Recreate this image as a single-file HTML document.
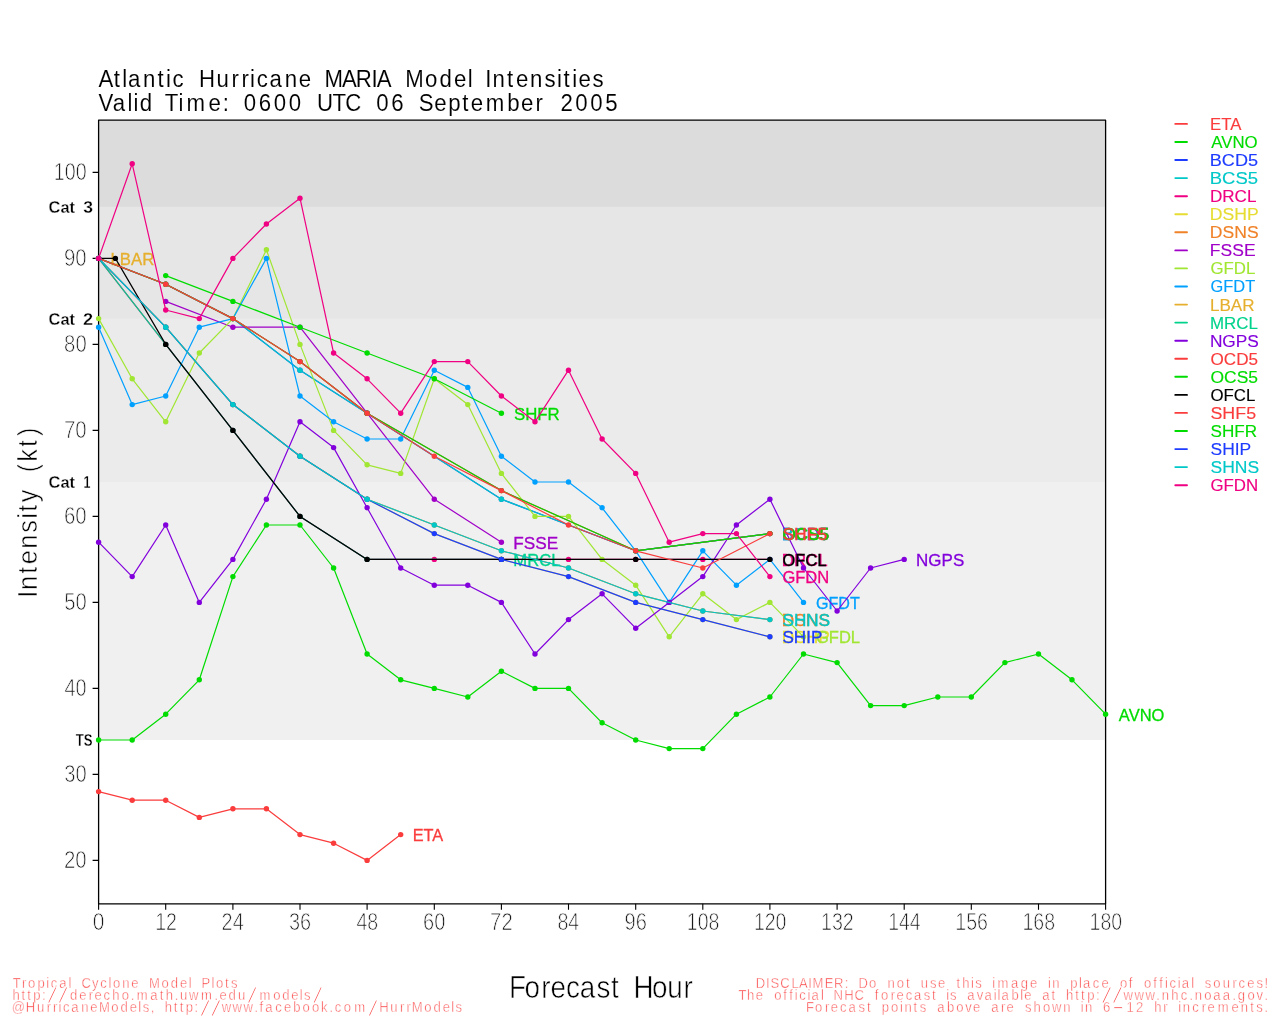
<!DOCTYPE html>
<html lang="en"><head><meta charset="utf-8"><title>Atlantic Hurricane MARIA Model Intensities</title>
<style>
html,body{margin:0;padding:0;background:#fff}
body{width:1280px;height:1024px;overflow:hidden}
svg{display:block}
text{font-family:"Liberation Sans",sans-serif}
.thin{fill:#000;stroke:#fff;stroke-width:.55px;paint-order:fill stroke}
.ax{fill:#1a1a1a;stroke:#fff;stroke-width:.75px}
.cat{font-weight:bold;fill:#000;stroke:#fff;stroke-width:.3px;paint-order:fill stroke}
.ft{fill:#fa3c3c;stroke:#fff;stroke-width:.5px;paint-order:fill stroke}
.sl{stroke-width:1.15px}
.e3{fill:#000;stroke:#fff;stroke-width:.08px;paint-order:fill stroke}
.e8{fill:#000;stroke:#fff;stroke-width:.6px;paint-order:fill stroke}
.ln{fill:none;stroke-width:1.2;stroke-linejoin:round;stroke-linecap:round}
</style></head><body>
<svg width="1280" height="1024" viewBox="0 0 1280 1024">
<rect width="1280" height="1024" fill="#fff"/>
<rect x="98.6" y="120.2" width="1007.0" height="619.8" fill="#f0f0f0"/>
<rect x="98.6" y="120.2" width="1007.0" height="361.8" fill="#ebebeb"/>
<rect x="98.6" y="120.2" width="1007.0" height="198.4" fill="#e6e6e6"/>
<rect x="98.6" y="120.2" width="1007.0" height="86.6" fill="#dcdcdc"/>
<rect x="98.6" y="120.2" width="1007.0" height="783.6" fill="none" stroke="#000" stroke-width="1.3" stroke-linejoin="round"/>
<path d="M92.6,860.4H98.6M92.6,774.4H98.6M92.6,688.4H98.6M92.6,602.4H98.6M92.6,516.4H98.6M92.6,430.4H98.6M92.6,344.4H98.6M92.6,258.4H98.6M92.6,172.4H98.6M98.6,903.8V909.6999999999999M165.7,903.8V909.6999999999999M232.9,903.8V909.6999999999999M300.0,903.8V909.6999999999999M367.1,903.8V909.6999999999999M434.3,903.8V909.6999999999999M501.4,903.8V909.6999999999999M568.5,903.8V909.6999999999999M635.7,903.8V909.6999999999999M702.8,903.8V909.6999999999999M769.9,903.8V909.6999999999999M837.1,903.8V909.6999999999999M904.2,903.8V909.6999999999999M971.3,903.8V909.6999999999999M1038.5,903.8V909.6999999999999M1105.6,903.8V909.6999999999999" stroke="#000" stroke-width="1.1" fill="none"/>
<g fill="#fa3c3c" stroke="#fa3c3c"><polyline class="ln" points="98.6,791.6 132.2,800.2 165.7,800.2 199.3,817.4 232.9,808.8 266.4,808.8 300.0,834.6 333.6,843.2 367.1,860.4 400.7,834.6"/><circle cx="98.6" cy="791.6" r="2.7" stroke="none"/><circle cx="132.2" cy="800.2" r="2.7" stroke="none"/><circle cx="165.7" cy="800.2" r="2.7" stroke="none"/><circle cx="199.3" cy="817.4" r="2.7" stroke="none"/><circle cx="232.9" cy="808.8" r="2.7" stroke="none"/><circle cx="266.4" cy="808.8" r="2.7" stroke="none"/><circle cx="300.0" cy="834.6" r="2.7" stroke="none"/><circle cx="333.6" cy="843.2" r="2.7" stroke="none"/><circle cx="367.1" cy="860.4" r="2.7" stroke="none"/><circle cx="400.7" cy="834.6" r="2.7" stroke="none"/><text x="412.71" y="841.00" font-size="17.2" textLength="30.52" lengthAdjust="spacingAndGlyphs" stroke-width="0.3">ETA</text></g>
<g fill="#00dc00" stroke="#00dc00"><polyline class="ln" points="98.6,740.0 132.2,740.0 165.7,714.2 199.3,679.8 232.9,576.6 266.4,525.0 300.0,525.0 333.6,568.0 367.1,654.0 400.7,679.8 434.3,688.4 467.8,697.0 501.4,671.2 535.0,688.4 568.5,688.4 602.1,722.8 635.7,740.0 669.2,748.6 702.8,748.6 736.4,714.2 769.9,697.0 803.5,654.0 837.1,662.6 870.6,705.6 904.2,705.6 937.8,697.0 971.3,697.0 1004.9,662.6 1038.5,654.0 1072.0,679.8 1105.6,714.2"/><circle cx="98.6" cy="740.0" r="2.7" stroke="none"/><circle cx="132.2" cy="740.0" r="2.7" stroke="none"/><circle cx="165.7" cy="714.2" r="2.7" stroke="none"/><circle cx="199.3" cy="679.8" r="2.7" stroke="none"/><circle cx="232.9" cy="576.6" r="2.7" stroke="none"/><circle cx="266.4" cy="525.0" r="2.7" stroke="none"/><circle cx="300.0" cy="525.0" r="2.7" stroke="none"/><circle cx="333.6" cy="568.0" r="2.7" stroke="none"/><circle cx="367.1" cy="654.0" r="2.7" stroke="none"/><circle cx="400.7" cy="679.8" r="2.7" stroke="none"/><circle cx="434.3" cy="688.4" r="2.7" stroke="none"/><circle cx="467.8" cy="697.0" r="2.7" stroke="none"/><circle cx="501.4" cy="671.2" r="2.7" stroke="none"/><circle cx="535.0" cy="688.4" r="2.7" stroke="none"/><circle cx="568.5" cy="688.4" r="2.7" stroke="none"/><circle cx="602.1" cy="722.8" r="2.7" stroke="none"/><circle cx="635.7" cy="740.0" r="2.7" stroke="none"/><circle cx="669.2" cy="748.6" r="2.7" stroke="none"/><circle cx="702.8" cy="748.6" r="2.7" stroke="none"/><circle cx="736.4" cy="714.2" r="2.7" stroke="none"/><circle cx="769.9" cy="697.0" r="2.7" stroke="none"/><circle cx="803.5" cy="654.0" r="2.7" stroke="none"/><circle cx="837.1" cy="662.6" r="2.7" stroke="none"/><circle cx="870.6" cy="705.6" r="2.7" stroke="none"/><circle cx="904.2" cy="705.6" r="2.7" stroke="none"/><circle cx="937.8" cy="697.0" r="2.7" stroke="none"/><circle cx="971.3" cy="697.0" r="2.7" stroke="none"/><circle cx="1004.9" cy="662.6" r="2.7" stroke="none"/><circle cx="1038.5" cy="654.0" r="2.7" stroke="none"/><circle cx="1072.0" cy="679.8" r="2.7" stroke="none"/><circle cx="1105.6" cy="714.2" r="2.7" stroke="none"/><text x="1118.86" y="720.60" font-size="17.2" textLength="45.50" lengthAdjust="spacingAndGlyphs" stroke-width="0.3">AVNO</text></g>
<g fill="#1e3cff" stroke="#1e3cff"><polyline class="ln" points="98.6,258.4 165.7,284.2 232.9,318.6 300.0,370.2 367.1,413.2 501.4,499.2 635.7,550.8 769.9,533.6"/><circle cx="98.6" cy="258.4" r="2.7" stroke="none"/><circle cx="165.7" cy="284.2" r="2.7" stroke="none"/><circle cx="232.9" cy="318.6" r="2.7" stroke="none"/><circle cx="300.0" cy="370.2" r="2.7" stroke="none"/><circle cx="367.1" cy="413.2" r="2.7" stroke="none"/><circle cx="501.4" cy="499.2" r="2.7" stroke="none"/><circle cx="635.7" cy="550.8" r="2.7" stroke="none"/><circle cx="769.9" cy="533.6" r="2.7" stroke="none"/><text x="781.77" y="540.00" font-size="17.2" textLength="47.40" lengthAdjust="spacingAndGlyphs" stroke-width="0.3">BCD5</text></g>
<g fill="#00c8c8" stroke="#00c8c8"><polyline class="ln" points="98.6,258.4 165.7,284.2 232.9,318.6 300.0,370.2 367.1,413.2 501.4,499.2 635.7,550.8 769.9,533.6"/><circle cx="98.6" cy="258.4" r="2.7" stroke="none"/><circle cx="165.7" cy="284.2" r="2.7" stroke="none"/><circle cx="232.9" cy="318.6" r="2.7" stroke="none"/><circle cx="300.0" cy="370.2" r="2.7" stroke="none"/><circle cx="367.1" cy="413.2" r="2.7" stroke="none"/><circle cx="501.4" cy="499.2" r="2.7" stroke="none"/><circle cx="635.7" cy="550.8" r="2.7" stroke="none"/><circle cx="769.9" cy="533.6" r="2.7" stroke="none"/><text x="781.74" y="540.00" font-size="17.2" textLength="47.45" lengthAdjust="spacingAndGlyphs" stroke-width="0.3">BCS5</text></g>
<g fill="#f00082" stroke="#f00082"><polyline class="ln" points="98.6,258.4 165.7,344.4 232.9,430.4 300.0,516.4 367.1,559.4 434.3,559.4 501.4,559.4 568.5,559.4 635.7,559.4 702.8,559.4 769.9,559.4"/><circle cx="98.6" cy="258.4" r="2.7" stroke="none"/><circle cx="165.7" cy="344.4" r="2.7" stroke="none"/><circle cx="232.9" cy="430.4" r="2.7" stroke="none"/><circle cx="300.0" cy="516.4" r="2.7" stroke="none"/><circle cx="367.1" cy="559.4" r="2.7" stroke="none"/><circle cx="434.3" cy="559.4" r="2.7" stroke="none"/><circle cx="501.4" cy="559.4" r="2.7" stroke="none"/><circle cx="568.5" cy="559.4" r="2.7" stroke="none"/><circle cx="635.7" cy="559.4" r="2.7" stroke="none"/><circle cx="702.8" cy="559.4" r="2.7" stroke="none"/><circle cx="769.9" cy="559.4" r="2.7" stroke="none"/><text x="781.85" y="565.80" font-size="17.2" textLength="45.74" lengthAdjust="spacingAndGlyphs" stroke-width="0.3">DRCL</text></g>
<g fill="#e6dc32" stroke="#e6dc32"><polyline class="ln" points="98.6,258.4 165.7,327.2 232.9,404.6 300.0,456.2 367.1,499.2 434.3,533.6 501.4,559.4 568.5,576.6 635.7,602.4 702.8,619.6 769.9,636.8"/><circle cx="98.6" cy="258.4" r="2.7" stroke="none"/><circle cx="165.7" cy="327.2" r="2.7" stroke="none"/><circle cx="232.9" cy="404.6" r="2.7" stroke="none"/><circle cx="300.0" cy="456.2" r="2.7" stroke="none"/><circle cx="367.1" cy="499.2" r="2.7" stroke="none"/><circle cx="434.3" cy="533.6" r="2.7" stroke="none"/><circle cx="501.4" cy="559.4" r="2.7" stroke="none"/><circle cx="568.5" cy="576.6" r="2.7" stroke="none"/><circle cx="635.7" cy="602.4" r="2.7" stroke="none"/><circle cx="702.8" cy="619.6" r="2.7" stroke="none"/><circle cx="769.9" cy="636.8" r="2.7" stroke="none"/><text x="781.81" y="643.20" font-size="17.2" textLength="48.03" lengthAdjust="spacingAndGlyphs" stroke-width="0.3">DSHP</text></g>
<g fill="#f08228" stroke="#f08228"><polyline class="ln" points="98.6,258.4 165.7,327.2 232.9,404.6 300.0,456.2 367.1,499.2 434.3,525.0 501.4,550.8 568.5,568.0 635.7,593.8 702.8,611.0 769.9,619.6"/><circle cx="98.6" cy="258.4" r="2.7" stroke="none"/><circle cx="165.7" cy="327.2" r="2.7" stroke="none"/><circle cx="232.9" cy="404.6" r="2.7" stroke="none"/><circle cx="300.0" cy="456.2" r="2.7" stroke="none"/><circle cx="367.1" cy="499.2" r="2.7" stroke="none"/><circle cx="434.3" cy="525.0" r="2.7" stroke="none"/><circle cx="501.4" cy="550.8" r="2.7" stroke="none"/><circle cx="568.5" cy="568.0" r="2.7" stroke="none"/><circle cx="635.7" cy="593.8" r="2.7" stroke="none"/><circle cx="702.8" cy="611.0" r="2.7" stroke="none"/><circle cx="769.9" cy="619.6" r="2.7" stroke="none"/><text x="781.81" y="626.00" font-size="17.2" textLength="47.91" lengthAdjust="spacingAndGlyphs" stroke-width="0.3">DSNS</text></g>
<g fill="#a000c8" stroke="#a000c8"><polyline class="ln" points="165.7,301.4 232.9,327.2 300.0,327.2 367.1,413.2 434.3,499.2 501.4,542.2"/><circle cx="165.7" cy="301.4" r="2.7" stroke="none"/><circle cx="232.9" cy="327.2" r="2.7" stroke="none"/><circle cx="300.0" cy="327.2" r="2.7" stroke="none"/><circle cx="367.1" cy="413.2" r="2.7" stroke="none"/><circle cx="434.3" cy="499.2" r="2.7" stroke="none"/><circle cx="501.4" cy="542.2" r="2.7" stroke="none"/><text x="513.29" y="548.60" font-size="17.2" textLength="44.85" lengthAdjust="spacingAndGlyphs" stroke-width="0.3">FSSE</text></g>
<g fill="#a0e632" stroke="#a0e632"><polyline class="ln" points="98.6,318.6 132.2,378.8 165.7,421.8 199.3,353.0 232.9,318.6 266.4,249.8 300.0,344.4 333.6,430.4 367.1,464.8 400.7,473.4 434.3,378.8 467.8,404.6 501.4,473.4 535.0,516.4 568.5,516.4 602.1,559.4 635.7,585.2 669.2,636.8 702.8,593.8 736.4,619.6 769.9,602.4 803.5,636.8"/><circle cx="98.6" cy="318.6" r="2.7" stroke="none"/><circle cx="132.2" cy="378.8" r="2.7" stroke="none"/><circle cx="165.7" cy="421.8" r="2.7" stroke="none"/><circle cx="199.3" cy="353.0" r="2.7" stroke="none"/><circle cx="232.9" cy="318.6" r="2.7" stroke="none"/><circle cx="266.4" cy="249.8" r="2.7" stroke="none"/><circle cx="300.0" cy="344.4" r="2.7" stroke="none"/><circle cx="333.6" cy="430.4" r="2.7" stroke="none"/><circle cx="367.1" cy="464.8" r="2.7" stroke="none"/><circle cx="400.7" cy="473.4" r="2.7" stroke="none"/><circle cx="434.3" cy="378.8" r="2.7" stroke="none"/><circle cx="467.8" cy="404.6" r="2.7" stroke="none"/><circle cx="501.4" cy="473.4" r="2.7" stroke="none"/><circle cx="535.0" cy="516.4" r="2.7" stroke="none"/><circle cx="568.5" cy="516.4" r="2.7" stroke="none"/><circle cx="602.1" cy="559.4" r="2.7" stroke="none"/><circle cx="635.7" cy="585.2" r="2.7" stroke="none"/><circle cx="669.2" cy="636.8" r="2.7" stroke="none"/><circle cx="702.8" cy="593.8" r="2.7" stroke="none"/><circle cx="736.4" cy="619.6" r="2.7" stroke="none"/><circle cx="769.9" cy="602.4" r="2.7" stroke="none"/><circle cx="803.5" cy="636.8" r="2.7" stroke="none"/><text x="815.96" y="643.20" font-size="17.2" textLength="44.08" lengthAdjust="spacingAndGlyphs" stroke-width="0.3">GFDL</text></g>
<g fill="#00a0ff" stroke="#00a0ff"><polyline class="ln" points="98.6,327.2 132.2,404.6 165.7,396.0 199.3,327.2 232.9,318.6 266.4,258.4 300.0,396.0 333.6,421.8 367.1,439.0 400.7,439.0 434.3,370.2 467.8,387.4 501.4,456.2 535.0,482.0 568.5,482.0 602.1,507.8 635.7,550.8 669.2,602.4 702.8,550.8 736.4,585.2 769.9,559.4 803.5,602.4"/><circle cx="98.6" cy="327.2" r="2.7" stroke="none"/><circle cx="132.2" cy="404.6" r="2.7" stroke="none"/><circle cx="165.7" cy="396.0" r="2.7" stroke="none"/><circle cx="199.3" cy="327.2" r="2.7" stroke="none"/><circle cx="232.9" cy="318.6" r="2.7" stroke="none"/><circle cx="266.4" cy="258.4" r="2.7" stroke="none"/><circle cx="300.0" cy="396.0" r="2.7" stroke="none"/><circle cx="333.6" cy="421.8" r="2.7" stroke="none"/><circle cx="367.1" cy="439.0" r="2.7" stroke="none"/><circle cx="400.7" cy="439.0" r="2.7" stroke="none"/><circle cx="434.3" cy="370.2" r="2.7" stroke="none"/><circle cx="467.8" cy="387.4" r="2.7" stroke="none"/><circle cx="501.4" cy="456.2" r="2.7" stroke="none"/><circle cx="535.0" cy="482.0" r="2.7" stroke="none"/><circle cx="568.5" cy="482.0" r="2.7" stroke="none"/><circle cx="602.1" cy="507.8" r="2.7" stroke="none"/><circle cx="635.7" cy="550.8" r="2.7" stroke="none"/><circle cx="669.2" cy="602.4" r="2.7" stroke="none"/><circle cx="702.8" cy="550.8" r="2.7" stroke="none"/><circle cx="736.4" cy="585.2" r="2.7" stroke="none"/><circle cx="769.9" cy="559.4" r="2.7" stroke="none"/><circle cx="803.5" cy="602.4" r="2.7" stroke="none"/><text x="815.98" y="608.80" font-size="17.2" textLength="43.88" lengthAdjust="spacingAndGlyphs" stroke-width="0.3">GFDT</text></g>
<g fill="#e6af2d" stroke="#e6af2d"><circle cx="98.6" cy="258.4" r="2.7" stroke="none"/><text x="110.52" y="264.80" font-size="17.2" textLength="43.86" lengthAdjust="spacingAndGlyphs" stroke-width="0.3">LBAR</text></g>
<g fill="#00d28c" stroke="#00d28c"><polyline class="ln" points="98.6,258.4 165.7,344.4 232.9,430.4 300.0,516.4 367.1,559.4 501.4,559.4"/><circle cx="98.6" cy="258.4" r="2.7" stroke="none"/><circle cx="165.7" cy="344.4" r="2.7" stroke="none"/><circle cx="232.9" cy="430.4" r="2.7" stroke="none"/><circle cx="300.0" cy="516.4" r="2.7" stroke="none"/><circle cx="367.1" cy="559.4" r="2.7" stroke="none"/><circle cx="501.4" cy="559.4" r="2.7" stroke="none"/><text x="513.33" y="565.80" font-size="17.2" textLength="47.12" lengthAdjust="spacingAndGlyphs" stroke-width="0.3">MRCL</text></g>
<g fill="#8200dc" stroke="#8200dc"><polyline class="ln" points="98.6,542.2 132.2,576.6 165.7,525.0 199.3,602.4 232.9,559.4 266.4,499.2 300.0,421.8 333.6,447.6 367.1,507.8 400.7,568.0 434.3,585.2 467.8,585.2 501.4,602.4 535.0,654.0 568.5,619.6 602.1,593.8 635.7,628.2 669.2,602.4 702.8,576.6 736.4,525.0 769.9,499.2 803.5,568.0 837.1,611.0 870.6,568.0 904.2,559.4"/><circle cx="98.6" cy="542.2" r="2.7" stroke="none"/><circle cx="132.2" cy="576.6" r="2.7" stroke="none"/><circle cx="165.7" cy="525.0" r="2.7" stroke="none"/><circle cx="199.3" cy="602.4" r="2.7" stroke="none"/><circle cx="232.9" cy="559.4" r="2.7" stroke="none"/><circle cx="266.4" cy="499.2" r="2.7" stroke="none"/><circle cx="300.0" cy="421.8" r="2.7" stroke="none"/><circle cx="333.6" cy="447.6" r="2.7" stroke="none"/><circle cx="367.1" cy="507.8" r="2.7" stroke="none"/><circle cx="400.7" cy="568.0" r="2.7" stroke="none"/><circle cx="434.3" cy="585.2" r="2.7" stroke="none"/><circle cx="467.8" cy="585.2" r="2.7" stroke="none"/><circle cx="501.4" cy="602.4" r="2.7" stroke="none"/><circle cx="535.0" cy="654.0" r="2.7" stroke="none"/><circle cx="568.5" cy="619.6" r="2.7" stroke="none"/><circle cx="602.1" cy="593.8" r="2.7" stroke="none"/><circle cx="635.7" cy="628.2" r="2.7" stroke="none"/><circle cx="669.2" cy="602.4" r="2.7" stroke="none"/><circle cx="702.8" cy="576.6" r="2.7" stroke="none"/><circle cx="736.4" cy="525.0" r="2.7" stroke="none"/><circle cx="769.9" cy="499.2" r="2.7" stroke="none"/><circle cx="803.5" cy="568.0" r="2.7" stroke="none"/><circle cx="837.1" cy="611.0" r="2.7" stroke="none"/><circle cx="870.6" cy="568.0" r="2.7" stroke="none"/><circle cx="904.2" cy="559.4" r="2.7" stroke="none"/><text x="916.10" y="565.80" font-size="17.2" textLength="48.17" lengthAdjust="spacingAndGlyphs" stroke-width="0.3">NGPS</text></g>
<g fill="#fa3c3c" stroke="#fa3c3c"><polyline class="ln" points="98.6,258.4 165.7,284.2 232.9,318.6 300.0,361.6 367.1,413.2 501.4,490.6 635.7,550.8 769.9,533.6"/><circle cx="98.6" cy="258.4" r="2.7" stroke="none"/><circle cx="165.7" cy="284.2" r="2.7" stroke="none"/><circle cx="232.9" cy="318.6" r="2.7" stroke="none"/><circle cx="300.0" cy="361.6" r="2.7" stroke="none"/><circle cx="367.1" cy="413.2" r="2.7" stroke="none"/><circle cx="501.4" cy="490.6" r="2.7" stroke="none"/><circle cx="635.7" cy="550.8" r="2.7" stroke="none"/><circle cx="769.9" cy="533.6" r="2.7" stroke="none"/><text x="782.43" y="540.00" font-size="17.2" textLength="46.70" lengthAdjust="spacingAndGlyphs" stroke-width="0.3">OCD5</text></g>
<g fill="#00dc00" stroke="#00dc00"><polyline class="ln" points="98.6,258.4 165.7,284.2 232.9,318.6 300.0,361.6 367.1,413.2 501.4,490.6 635.7,550.8 769.9,533.6"/><circle cx="98.6" cy="258.4" r="2.7" stroke="none"/><circle cx="165.7" cy="284.2" r="2.7" stroke="none"/><circle cx="232.9" cy="318.6" r="2.7" stroke="none"/><circle cx="300.0" cy="361.6" r="2.7" stroke="none"/><circle cx="367.1" cy="413.2" r="2.7" stroke="none"/><circle cx="501.4" cy="490.6" r="2.7" stroke="none"/><circle cx="635.7" cy="550.8" r="2.7" stroke="none"/><circle cx="769.9" cy="533.6" r="2.7" stroke="none"/><text x="782.42" y="540.00" font-size="17.2" textLength="46.73" lengthAdjust="spacingAndGlyphs" stroke-width="0.3">OCS5</text></g>
<g fill="#000000" stroke="#000000"><polyline class="ln" points="98.6,258.4 115.4,258.4 165.7,344.4 232.9,430.4 300.0,516.4 367.1,559.4 501.4,559.4 635.7,559.4 769.9,559.4"/><circle cx="98.6" cy="258.4" r="2.7" stroke="none"/><circle cx="115.4" cy="258.4" r="2.7" stroke="none"/><circle cx="165.7" cy="344.4" r="2.7" stroke="none"/><circle cx="232.9" cy="430.4" r="2.7" stroke="none"/><circle cx="300.0" cy="516.4" r="2.7" stroke="none"/><circle cx="367.1" cy="559.4" r="2.7" stroke="none"/><circle cx="501.4" cy="559.4" r="2.7" stroke="none"/><circle cx="635.7" cy="559.4" r="2.7" stroke="none"/><circle cx="769.9" cy="559.4" r="2.7" stroke="none"/><text x="782.45" y="565.80" font-size="17.2" textLength="44.03" lengthAdjust="spacingAndGlyphs" stroke-width="0.3">OFCL</text></g>
<g fill="#fa3c3c" stroke="#fa3c3c"><polyline class="ln" points="98.6,258.4 165.7,284.2 232.9,318.6 300.0,361.6 367.1,413.2 434.3,456.2 501.4,490.6 568.5,525.0 635.7,550.8 702.8,568.0 769.9,533.6"/><circle cx="98.6" cy="258.4" r="2.7" stroke="none"/><circle cx="165.7" cy="284.2" r="2.7" stroke="none"/><circle cx="232.9" cy="318.6" r="2.7" stroke="none"/><circle cx="300.0" cy="361.6" r="2.7" stroke="none"/><circle cx="367.1" cy="413.2" r="2.7" stroke="none"/><circle cx="434.3" cy="456.2" r="2.7" stroke="none"/><circle cx="501.4" cy="490.6" r="2.7" stroke="none"/><circle cx="568.5" cy="525.0" r="2.7" stroke="none"/><circle cx="635.7" cy="550.8" r="2.7" stroke="none"/><circle cx="702.8" cy="568.0" r="2.7" stroke="none"/><circle cx="769.9" cy="533.6" r="2.7" stroke="none"/><text x="782.43" y="540.00" font-size="17.2" textLength="44.73" lengthAdjust="spacingAndGlyphs" stroke-width="0.3">SHF5</text></g>
<g fill="#00dc00" stroke="#00dc00"><polyline class="ln" points="165.7,275.6 232.9,301.4 300.0,327.2 367.1,353.0 434.3,378.8 501.4,413.2"/><circle cx="165.7" cy="275.6" r="2.7" stroke="none"/><circle cx="232.9" cy="301.4" r="2.7" stroke="none"/><circle cx="300.0" cy="327.2" r="2.7" stroke="none"/><circle cx="367.1" cy="353.0" r="2.7" stroke="none"/><circle cx="434.3" cy="378.8" r="2.7" stroke="none"/><circle cx="501.4" cy="413.2" r="2.7" stroke="none"/><text x="513.93" y="419.60" font-size="17.2" textLength="45.74" lengthAdjust="spacingAndGlyphs" stroke-width="0.3">SHFR</text></g>
<g fill="#1e3cff" stroke="#1e3cff"><polyline class="ln" points="98.6,258.4 165.7,327.2 232.9,404.6 300.0,456.2 367.1,499.2 434.3,533.6 501.4,559.4 568.5,576.6 635.7,602.4 702.8,619.6 769.9,636.8"/><circle cx="98.6" cy="258.4" r="2.7" stroke="none"/><circle cx="165.7" cy="327.2" r="2.7" stroke="none"/><circle cx="232.9" cy="404.6" r="2.7" stroke="none"/><circle cx="300.0" cy="456.2" r="2.7" stroke="none"/><circle cx="367.1" cy="499.2" r="2.7" stroke="none"/><circle cx="434.3" cy="533.6" r="2.7" stroke="none"/><circle cx="501.4" cy="559.4" r="2.7" stroke="none"/><circle cx="568.5" cy="576.6" r="2.7" stroke="none"/><circle cx="635.7" cy="602.4" r="2.7" stroke="none"/><circle cx="702.8" cy="619.6" r="2.7" stroke="none"/><circle cx="769.9" cy="636.8" r="2.7" stroke="none"/><text x="782.45" y="643.20" font-size="17.2" textLength="39.88" lengthAdjust="spacingAndGlyphs" stroke-width="0.3">SHIP</text></g>
<g fill="#00c8c8" stroke="#00c8c8"><polyline class="ln" points="98.6,258.4 165.7,327.2 232.9,404.6 300.0,456.2 367.1,499.2 434.3,525.0 501.4,550.8 568.5,568.0 635.7,593.8 702.8,611.0 769.9,619.6"/><circle cx="98.6" cy="258.4" r="2.7" stroke="none"/><circle cx="165.7" cy="327.2" r="2.7" stroke="none"/><circle cx="232.9" cy="404.6" r="2.7" stroke="none"/><circle cx="300.0" cy="456.2" r="2.7" stroke="none"/><circle cx="367.1" cy="499.2" r="2.7" stroke="none"/><circle cx="434.3" cy="525.0" r="2.7" stroke="none"/><circle cx="501.4" cy="550.8" r="2.7" stroke="none"/><circle cx="568.5" cy="568.0" r="2.7" stroke="none"/><circle cx="635.7" cy="593.8" r="2.7" stroke="none"/><circle cx="702.8" cy="611.0" r="2.7" stroke="none"/><circle cx="769.9" cy="619.6" r="2.7" stroke="none"/><text x="782.45" y="626.00" font-size="17.2" textLength="47.77" lengthAdjust="spacingAndGlyphs" stroke-width="0.3">SHNS</text></g>
<g fill="#f00082" stroke="#f00082"><polyline class="ln" points="98.6,258.4 132.2,163.8 165.7,310.0 199.3,318.6 232.9,258.4 266.4,224.0 300.0,198.2 333.6,353.0 367.1,378.8 400.7,413.2 434.3,361.6 467.8,361.6 501.4,396.0 535.0,421.8 568.5,370.2 602.1,439.0 635.7,473.4 669.2,542.2 702.8,533.6 736.4,533.6 769.9,576.6"/><circle cx="98.6" cy="258.4" r="2.7" stroke="none"/><circle cx="132.2" cy="163.8" r="2.7" stroke="none"/><circle cx="165.7" cy="310.0" r="2.7" stroke="none"/><circle cx="199.3" cy="318.6" r="2.7" stroke="none"/><circle cx="232.9" cy="258.4" r="2.7" stroke="none"/><circle cx="266.4" cy="224.0" r="2.7" stroke="none"/><circle cx="300.0" cy="198.2" r="2.7" stroke="none"/><circle cx="333.6" cy="353.0" r="2.7" stroke="none"/><circle cx="367.1" cy="378.8" r="2.7" stroke="none"/><circle cx="400.7" cy="413.2" r="2.7" stroke="none"/><circle cx="434.3" cy="361.6" r="2.7" stroke="none"/><circle cx="467.8" cy="361.6" r="2.7" stroke="none"/><circle cx="501.4" cy="396.0" r="2.7" stroke="none"/><circle cx="535.0" cy="421.8" r="2.7" stroke="none"/><circle cx="568.5" cy="370.2" r="2.7" stroke="none"/><circle cx="602.1" cy="439.0" r="2.7" stroke="none"/><circle cx="635.7" cy="473.4" r="2.7" stroke="none"/><circle cx="669.2" cy="542.2" r="2.7" stroke="none"/><circle cx="702.8" cy="533.6" r="2.7" stroke="none"/><circle cx="736.4" cy="533.6" r="2.7" stroke="none"/><circle cx="769.9" cy="576.6" r="2.7" stroke="none"/><text x="782.40" y="583.00" font-size="17.2" textLength="46.88" lengthAdjust="spacingAndGlyphs" stroke-width="0.3">GFDN</text></g>
<text x="63.97" y="867.90" font-size="23.1" textLength="22.73" lengthAdjust="spacingAndGlyphs" class="ax thin">20</text>
<text x="64.23" y="781.90" font-size="23.1" textLength="22.46" lengthAdjust="spacingAndGlyphs" class="ax thin">30</text>
<text x="64.54" y="695.90" font-size="23.1" textLength="22.13" lengthAdjust="spacingAndGlyphs" class="ax thin">40</text>
<text x="64.19" y="609.90" font-size="23.1" textLength="22.50" lengthAdjust="spacingAndGlyphs" class="ax thin">50</text>
<text x="63.96" y="523.90" font-size="23.1" textLength="22.74" lengthAdjust="spacingAndGlyphs" class="ax thin">60</text>
<text x="63.95" y="437.90" font-size="23.1" textLength="22.75" lengthAdjust="spacingAndGlyphs" class="ax thin">70</text>
<text x="64.12" y="351.90" font-size="23.1" textLength="22.57" lengthAdjust="spacingAndGlyphs" class="ax thin">80</text>
<text x="64.05" y="265.90" font-size="23.1" textLength="22.65" lengthAdjust="spacingAndGlyphs" class="ax thin">90</text>
<text x="53.80" y="179.90" font-size="23.1" textLength="32.87" lengthAdjust="spacingAndGlyphs" class="ax thin">100</text>
<text x="92.78" y="929.70" font-size="23.1" textLength="11.63" lengthAdjust="spacingAndGlyphs" class="ax thin">0</text>
<text x="155.19" y="929.70" font-size="23.1" textLength="21.78" lengthAdjust="spacingAndGlyphs" class="ax thin">12</text>
<text x="221.62" y="929.70" font-size="23.1" textLength="22.08" lengthAdjust="spacingAndGlyphs" class="ax thin">24</text>
<text x="288.99" y="929.70" font-size="23.1" textLength="22.13" lengthAdjust="spacingAndGlyphs" class="ax thin">36</text>
<text x="356.43" y="929.70" font-size="23.1" textLength="21.80" lengthAdjust="spacingAndGlyphs" class="ax thin">48</text>
<text x="423.00" y="929.70" font-size="23.1" textLength="22.30" lengthAdjust="spacingAndGlyphs" class="ax thin">60</text>
<text x="490.11" y="929.70" font-size="23.1" textLength="22.56" lengthAdjust="spacingAndGlyphs" class="ax thin">72</text>
<text x="557.42" y="929.70" font-size="23.1" textLength="21.93" lengthAdjust="spacingAndGlyphs" class="ax thin">84</text>
<text x="624.47" y="929.70" font-size="23.1" textLength="22.32" lengthAdjust="spacingAndGlyphs" class="ax thin">96</text>
<text x="686.76" y="929.70" font-size="23.1" textLength="32.64" lengthAdjust="spacingAndGlyphs" class="ax thin">108</text>
<text x="753.89" y="929.70" font-size="23.1" textLength="32.55" lengthAdjust="spacingAndGlyphs" class="ax thin">120</text>
<text x="821.01" y="929.70" font-size="23.1" textLength="32.79" lengthAdjust="spacingAndGlyphs" class="ax thin">132</text>
<text x="888.17" y="929.70" font-size="23.1" textLength="32.34" lengthAdjust="spacingAndGlyphs" class="ax thin">144</text>
<text x="955.29" y="929.70" font-size="23.1" textLength="32.65" lengthAdjust="spacingAndGlyphs" class="ax thin">156</text>
<text x="1022.42" y="929.70" font-size="23.1" textLength="32.64" lengthAdjust="spacingAndGlyphs" class="ax thin">168</text>
<text x="1089.56" y="929.70" font-size="23.1" textLength="32.55" lengthAdjust="spacingAndGlyphs" class="ax thin">180</text>
<text x="48.58" y="212.70" font-size="16.3" textLength="26.37" lengthAdjust="spacingAndGlyphs" class="cat">Cat</text>
<text x="83.35" y="212.70" font-size="16.3" textLength="9.79" lengthAdjust="spacingAndGlyphs" class="cat">3</text>
<text x="48.58" y="324.50" font-size="16.3" textLength="26.37" lengthAdjust="spacingAndGlyphs" class="cat">Cat</text>
<text x="83.12" y="324.50" font-size="16.3" textLength="10.11" lengthAdjust="spacingAndGlyphs" class="cat">2</text>
<text x="48.58" y="487.90" font-size="16.3" textLength="26.37" lengthAdjust="spacingAndGlyphs" class="cat">Cat</text>
<text x="83.61" y="487.90" font-size="16.3" textLength="6.93" lengthAdjust="spacingAndGlyphs" class="cat">1</text>
<text x="75.65" y="745.90" font-size="16.3" textLength="16.86" lengthAdjust="spacingAndGlyphs" class="cat">TS</text>
<text x="105.88 122.20 131.46 137.51 153.81 169.23 178.50 185.53" y="86.90" font-size="23.9" transform="scale(0.93,1)" class="e3">Atlantic</text>
<text x="213.96 232.71 249.06 259.67 268.95 276.05 289.76 306.18 321.33" y="86.90" font-size="23.9" transform="scale(0.93,1)" class="e3">Hurricane</text>
<text x="349.04 367.72 382.53 399.39 405.08" y="86.90" font-size="23.9" transform="scale(0.93,1)" class="e3">MARIA</text>
<text x="435.89 457.07 472.72 488.27 503.04" y="86.90" font-size="23.9" transform="scale(0.93,1)" class="e3">Model</text>
<text x="521.89 529.64 545.22 554.74 569.90 585.48 598.98 606.02 615.41 622.11 637.24" y="86.90" font-size="23.9" transform="scale(0.93,1)" class="e3">Intensities</text>
<text x="105.87 121.26 137.09 143.58 150.38" y="110.90" font-size="23.9" transform="scale(0.93,1)" class="e3">Valid</text>
<text x="177.07 191.87 200.64 224.29 239.44" y="110.90" font-size="23.9" transform="scale(0.93,1)" class="e3">Time:</text>
<text x="262.13 278.20 294.44 310.60" y="110.90" font-size="23.9" transform="scale(0.93,1)" class="e3">0600</text>
<text x="340.83 357.63 371.19" y="110.90" font-size="23.9" transform="scale(0.93,1)" class="e3">UTC</text>
<text x="404.61 420.72" y="110.90" font-size="23.9" transform="scale(0.93,1)" class="e3">06</text>
<text x="450.30 466.91 481.89 497.05 506.30 522.25 545.39 560.15 575.87" y="110.90" font-size="23.9" transform="scale(0.93,1)" class="e3">September</text>
<text x="602.67 618.68 634.69 650.73" y="110.90" font-size="23.9" transform="scale(0.93,1)" class="e3">2005</text>
<text x="565.62 582.75 601.53 611.76 628.90 644.19 662.86 678.92" y="997.60" font-size="30.9" transform="scale(0.9,1)" class="e8">Forecast</text>
<text x="703.77 724.53 741.41 759.59" y="997.60" font-size="30.9" transform="scale(0.9,1)" class="e8">Hour</text>
<g transform="translate(36.5,595) rotate(-90)"><text x="-2.95 5.54 22.98 33.45 50.31 67.67 82.80 90.60 100.90" y="0.00" font-size="27.5" transform="scale(0.92,1)" class="e8">Intensity</text><text x="133.45 144.94 160.99 172.82" y="0.00" font-size="27.5" transform="scale(0.92,1)" class="e8">(kt)</text></g>
<path d="M1175.3,123.9H1187" stroke="#fa3c3c" stroke-width="1.9" stroke-linecap="round"/><text x="1209.98" y="129.90" font-size="17.2" textLength="31.35" lengthAdjust="spacingAndGlyphs" fill="#fa3c3c" stroke="#fa3c3c" stroke-width="0.15">ETA</text>
<path d="M1175.3,142.0H1187" stroke="#00dc00" stroke-width="1.9" stroke-linecap="round"/><text x="1211.27" y="147.97" font-size="17.2" textLength="46.31" lengthAdjust="spacingAndGlyphs" fill="#00dc00" stroke="#00dc00" stroke-width="0.15">AVNO</text>
<path d="M1175.3,160.0H1187" stroke="#1e3cff" stroke-width="1.9" stroke-linecap="round"/><text x="1209.82" y="166.03" font-size="17.2" textLength="48.24" lengthAdjust="spacingAndGlyphs" fill="#1e3cff" stroke="#1e3cff" stroke-width="0.15">BCD5</text>
<path d="M1175.3,178.1H1187" stroke="#00c8c8" stroke-width="1.9" stroke-linecap="round"/><text x="1209.78" y="184.10" font-size="17.2" textLength="48.29" lengthAdjust="spacingAndGlyphs" fill="#00c8c8" stroke="#00c8c8" stroke-width="0.15">BCS5</text>
<path d="M1175.3,196.2H1187" stroke="#f00082" stroke-width="1.9" stroke-linecap="round"/><text x="1209.90" y="202.16" font-size="17.2" textLength="46.57" lengthAdjust="spacingAndGlyphs" fill="#f00082" stroke="#f00082" stroke-width="0.15">DRCL</text>
<path d="M1175.3,214.2H1187" stroke="#e6dc32" stroke-width="1.9" stroke-linecap="round"/><text x="1209.86" y="220.23" font-size="17.2" textLength="48.87" lengthAdjust="spacingAndGlyphs" fill="#e6dc32" stroke="#e6dc32" stroke-width="0.15">DSHP</text>
<path d="M1175.3,232.3H1187" stroke="#f08228" stroke-width="1.9" stroke-linecap="round"/><text x="1209.86" y="238.29" font-size="17.2" textLength="48.74" lengthAdjust="spacingAndGlyphs" fill="#f08228" stroke="#f08228" stroke-width="0.15">DSNS</text>
<path d="M1175.3,250.4H1187" stroke="#a000c8" stroke-width="1.9" stroke-linecap="round"/><text x="1209.87" y="256.36" font-size="17.2" textLength="45.69" lengthAdjust="spacingAndGlyphs" fill="#a000c8" stroke="#a000c8" stroke-width="0.15">FSSE</text>
<path d="M1175.3,268.4H1187" stroke="#a0e632" stroke-width="1.9" stroke-linecap="round"/><text x="1210.45" y="274.42" font-size="17.2" textLength="44.91" lengthAdjust="spacingAndGlyphs" fill="#a0e632" stroke="#a0e632" stroke-width="0.15">GFDL</text>
<path d="M1175.3,286.5H1187" stroke="#00a0ff" stroke-width="1.9" stroke-linecap="round"/><text x="1210.47" y="292.49" font-size="17.2" textLength="44.70" lengthAdjust="spacingAndGlyphs" fill="#00a0ff" stroke="#00a0ff" stroke-width="0.15">GFDT</text>
<path d="M1175.3,304.6H1187" stroke="#e6af2d" stroke-width="1.9" stroke-linecap="round"/><text x="1209.90" y="310.55" font-size="17.2" textLength="44.70" lengthAdjust="spacingAndGlyphs" fill="#e6af2d" stroke="#e6af2d" stroke-width="0.15">LBAR</text>
<path d="M1175.3,322.6H1187" stroke="#00d28c" stroke-width="1.9" stroke-linecap="round"/><text x="1209.91" y="328.62" font-size="17.2" textLength="47.95" lengthAdjust="spacingAndGlyphs" fill="#00d28c" stroke="#00d28c" stroke-width="0.15">MRCL</text>
<path d="M1175.3,340.7H1187" stroke="#8200dc" stroke-width="1.9" stroke-linecap="round"/><text x="1209.88" y="346.68" font-size="17.2" textLength="49.01" lengthAdjust="spacingAndGlyphs" fill="#8200dc" stroke="#8200dc" stroke-width="0.15">NGPS</text>
<path d="M1175.3,358.7H1187" stroke="#fa3c3c" stroke-width="1.9" stroke-linecap="round"/><text x="1210.49" y="364.75" font-size="17.2" textLength="47.53" lengthAdjust="spacingAndGlyphs" fill="#fa3c3c" stroke="#fa3c3c" stroke-width="0.15">OCD5</text>
<path d="M1175.3,376.8H1187" stroke="#00dc00" stroke-width="1.9" stroke-linecap="round"/><text x="1210.47" y="382.81" font-size="17.2" textLength="47.56" lengthAdjust="spacingAndGlyphs" fill="#00dc00" stroke="#00dc00" stroke-width="0.15">OCS5</text>
<path d="M1175.3,394.9H1187" stroke="#000000" stroke-width="1.9" stroke-linecap="round"/><text x="1210.50" y="400.88" font-size="17.2" textLength="44.86" lengthAdjust="spacingAndGlyphs" fill="#000000" stroke="#000000" stroke-width="0.15">OFCL</text>
<path d="M1175.3,412.9H1187" stroke="#fa3c3c" stroke-width="1.9" stroke-linecap="round"/><text x="1210.49" y="418.94" font-size="17.2" textLength="45.56" lengthAdjust="spacingAndGlyphs" fill="#fa3c3c" stroke="#fa3c3c" stroke-width="0.15">SHF5</text>
<path d="M1175.3,431.0H1187" stroke="#00dc00" stroke-width="1.9" stroke-linecap="round"/><text x="1210.52" y="437.00" font-size="17.2" textLength="46.57" lengthAdjust="spacingAndGlyphs" fill="#00dc00" stroke="#00dc00" stroke-width="0.15">SHFR</text>
<path d="M1175.3,449.1H1187" stroke="#1e3cff" stroke-width="1.9" stroke-linecap="round"/><text x="1210.51" y="455.07" font-size="17.2" textLength="40.71" lengthAdjust="spacingAndGlyphs" fill="#1e3cff" stroke="#1e3cff" stroke-width="0.15">SHIP</text>
<path d="M1175.3,467.1H1187" stroke="#00c8c8" stroke-width="1.9" stroke-linecap="round"/><text x="1210.51" y="473.13" font-size="17.2" textLength="48.60" lengthAdjust="spacingAndGlyphs" fill="#00c8c8" stroke="#00c8c8" stroke-width="0.15">SHNS</text>
<path d="M1175.3,485.2H1187" stroke="#f00082" stroke-width="1.9" stroke-linecap="round"/><text x="1210.45" y="491.20" font-size="17.2" textLength="47.72" lengthAdjust="spacingAndGlyphs" fill="#f00082" stroke="#f00082" stroke-width="0.15">GFDN</text>
<text x="14.73 25.65 32.66 43.69 53.87 59.10 68.81 79.71" y="987.70" font-size="15.2" transform="scale(0.86,1)" class="ft">Tropical</text>
<text x="94.70 107.00 116.56 126.19 131.33 142.14 152.69" y="987.70" font-size="15.2" transform="scale(0.86,1)" class="ft">Cyclone</text>
<text x="173.21 187.73 198.58 209.39 219.41" y="987.70" font-size="15.2" transform="scale(0.86,1)" class="ft">Model</text>
<text x="234.40 245.95 251.08 261.65 268.60" y="987.70" font-size="15.2" transform="scale(0.86,1)" class="ft">Plots</text>
<text x="14.40 24.89 31.61 38.63 48.76" y="999.70" font-size="15.2" transform="scale(0.86,1)" class="ft">http:</text>
<text x="47.14" y="1003.40" font-size="21.584" textLength="21.13" lengthAdjust="spacingAndGlyphs" class="ft sl">//</text>
<text x="81.51 92.19 103.19 109.88 120.44 130.65 141.53 151.91 159.10 174.58 185.80 192.84 203.26 209.43 219.84 233.84 249.47 255.36 265.78 276.75" y="999.70" font-size="15.2" transform="scale(0.86,1)" class="ft">derecho.math.uwm.edu</text>
<text x="246.99" y="1003.40" font-size="21.584" textLength="10.28" lengthAdjust="spacingAndGlyphs" class="ft sl">/</text>
<text x="301.76 317.65 328.23 338.76 348.60 353.58" y="999.70" font-size="15.2" transform="scale(0.86,1)" class="ft">models</text>
<text x="312.62" y="1003.40" font-size="21.584" textLength="10.28" lengthAdjust="spacingAndGlyphs" class="ft sl">/</text>
<text x="13.71 29.91 42.92 54.25 61.70 68.08 73.29 82.97 94.45 105.08 114.99 129.41 140.18 150.90 160.87 165.98 175.34" y="1011.80" font-size="15.2" transform="scale(0.86,1)" class="ft">@HurricaneModels,</text>
<text x="191.61 202.17 208.94 216.02 226.21" y="1011.80" font-size="15.2" transform="scale(0.86,1)" class="ft">http:</text>
<text x="199.77" y="1015.50" font-size="21.584" textLength="21.28" lengthAdjust="spacingAndGlyphs" class="ft sl">//</text>
<text x="257.78 270.50 283.21 295.84 301.79 308.43 320.03 330.15 340.94 351.80 362.78 373.38 383.10 389.38 399.77 411.82" y="1011.80" font-size="15.2" transform="scale(0.86,1)" class="ft">www.facebook.com</text>
<text x="367.76" y="1015.50" font-size="21.584" textLength="10.34" lengthAdjust="spacingAndGlyphs" class="ft sl">/</text>
<text x="440.94 453.92 465.21 472.63 478.92 493.30 504.03 514.72 524.66 529.75" y="1011.80" font-size="15.2" transform="scale(0.86,1)" class="ft">HurrModels</text>
<text x="878.86 890.67 895.89 907.34 920.29 929.16 939.71 944.83 958.93 969.92 982.33" y="987.70" font-size="15.2" transform="scale(0.86,1)" class="ft">DISCLAIMER:</text>
<text x="998.15 1010.46" y="987.70" font-size="15.2" transform="scale(0.86,1)" class="ft">Do</text>
<text x="1031.91 1042.85 1053.54" y="987.70" font-size="15.2" transform="scale(0.86,1)" class="ft">not</text>
<text x="1070.72 1081.35 1090.75" y="987.70" font-size="15.2" transform="scale(0.86,1)" class="ft">use</text>
<text x="1112.22 1119.00 1129.06 1133.94" y="987.70" font-size="15.2" transform="scale(0.86,1)" class="ft">this</text>
<text x="1153.74 1160.02 1175.62 1187.04 1197.81" y="987.70" font-size="15.2" transform="scale(0.86,1)" class="ft">image</text>
<text x="1218.49 1223.48" y="987.70" font-size="15.2" transform="scale(0.86,1)" class="ft">in</text>
<text x="1244.53 1254.69 1259.28 1270.80 1280.83" y="987.70" font-size="15.2" transform="scale(0.86,1)" class="ft">place</text>
<text x="1302.48 1312.61" y="987.70" font-size="15.2" transform="scale(0.86,1)" class="ft">of</text>
<text x="1330.37 1341.02 1347.94 1354.54 1359.80 1369.53 1374.16 1385.09" y="987.70" font-size="15.2" transform="scale(0.86,1)" class="ft">official</text>
<text x="1400.92 1410.82 1421.79 1433.19 1440.26 1450.35 1460.92 1470.34" y="987.70" font-size="15.2" transform="scale(0.86,1)" class="ft">sources!</text>
<text x="858.61 868.57 878.74" y="999.70" font-size="15.2" transform="scale(0.86,1)" class="ft">The</text>
<text x="900.30 910.86 917.71 924.25 929.44 939.10 943.66 954.51" y="999.70" font-size="15.2" transform="scale(0.86,1)" class="ft">official</text>
<text x="969.22 981.60 993.61" y="999.70" font-size="15.2" transform="scale(0.86,1)" class="ft">NHC</text>
<text x="1017.19 1024.37 1035.72 1042.45 1053.06 1062.76 1074.18 1083.78" y="999.70" font-size="15.2" transform="scale(0.86,1)" class="ft">forecast</text>
<text x="1100.26 1104.69" y="999.70" font-size="15.2" transform="scale(0.86,1)" class="ft">is</text>
<text x="1124.71 1135.71 1144.64 1155.48 1160.02 1164.57 1176.11 1186.21 1191.10" y="999.70" font-size="15.2" transform="scale(0.86,1)" class="ft">available</text>
<text x="1211.97 1222.66" y="999.70" font-size="15.2" transform="scale(0.86,1)" class="ft">at</text>
<text x="1239.57 1250.20 1257.03 1264.20 1274.46" y="999.70" font-size="15.2" transform="scale(0.86,1)" class="ft">http:</text>
<text x="1101.30" y="1003.40" font-size="21.584" textLength="21.46" lengthAdjust="spacingAndGlyphs" class="ft sl">//</text>
<text x="1306.32 1319.12 1331.93 1344.62 1350.93 1361.97 1373.07 1383.03 1389.34 1400.41 1410.86 1421.92 1433.08 1439.29 1450.46 1461.08 1470.33" y="999.70" font-size="15.2" transform="scale(0.86,1)" class="ft">www.nhc.noaa.gov.</text>
<text x="937.08 947.72 959.24 966.10 976.88 986.74 998.33 1008.06" y="1011.80" font-size="15.2" transform="scale(0.86,1)" class="ft">Forecast</text>
<text x="1025.40 1036.19 1046.48 1051.67 1062.35 1069.39" y="1011.80" font-size="15.2" transform="scale(0.86,1)" class="ft">points</text>
<text x="1089.81 1101.30 1111.95 1122.30 1131.52" y="1011.80" font-size="15.2" transform="scale(0.86,1)" class="ft">above</text>
<text x="1152.54 1164.03 1170.40" y="1011.80" font-size="15.2" transform="scale(0.86,1)" class="ft">are</text>
<text x="1191.99 1201.80 1212.74 1223.25 1236.28" y="1011.80" font-size="15.2" transform="scale(0.86,1)" class="ft">shown</text>
<text x="1256.66 1261.63" y="1011.80" font-size="15.2" transform="scale(0.86,1)" class="ft">in</text>
<text x="1282.56" y="1011.80" font-size="15.2" transform="scale(0.86,1)" class="ft">6</text>
<text x="1112.10" y="1011.80" font-size="15.2" textLength="12.40" lengthAdjust="spacingAndGlyphs" class="ft">-</text>
<text x="1309.93 1320.86" y="1011.80" font-size="15.2" transform="scale(0.86,1)" class="ft">12</text>
<text x="1342.12 1352.62" y="1011.80" font-size="15.2" transform="scale(0.86,1)" class="ft">hr</text>
<text x="1370.01 1375.32 1386.41 1397.32 1404.17 1416.03 1432.12 1442.87 1453.67 1460.84 1470.33" y="1011.80" font-size="15.2" transform="scale(0.86,1)" class="ft">increments.</text>
</svg>
</body></html>
